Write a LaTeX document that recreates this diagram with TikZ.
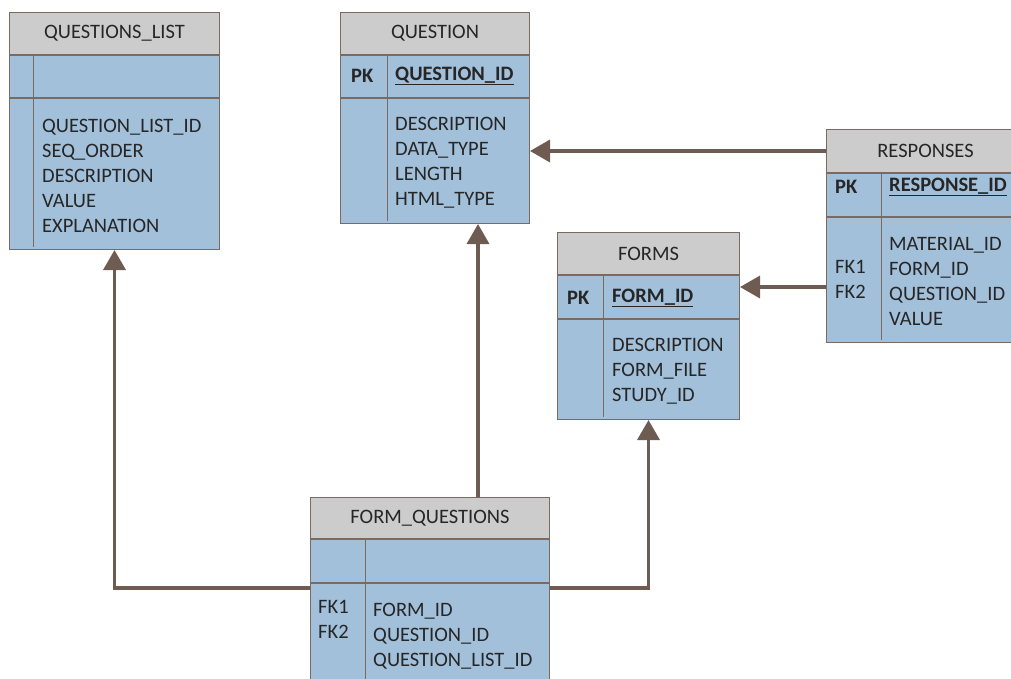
\documentclass[tikz,border=0pt]{standalone}
\usepackage{fontspec}
\setmainfont{Carlito}
\usetikzlibrary{arrows.meta,calc}
\definecolor{hdrfill}{HTML}{CCCCCC}
\definecolor{bodyfill}{HTML}{A2C0DA}
\definecolor{boxline}{HTML}{7A6A62}
\definecolor{connline}{HTML}{6E5B51}
\begin{document}
\begin{tikzpicture}[x=1pt,y=-1pt,
  every node/.style={font=\fontsize{20.5}{25}\selectfont, text=black!85},
  hdrbox/.style={draw=boxline, fill=hdrfill, line width=1pt, anchor=north west, inner sep=0pt},
  bodybox/.style={draw=boxline, fill=bodyfill, line width=1pt, anchor=north west, inner sep=0pt},
  divline/.style={draw=boxline, line width=1pt},
  coltext/.style={anchor=west, align=left, inner sep=0pt},
  keytext/.style={anchor=west, inner sep=0pt, font=\fontsize{20.5}{25}\selectfont\bfseries},
  connector/.style={draw=connline, line width=3.5pt, -{Triangle[length=20pt,width=22pt]}}
]
\useasboundingbox (0,0) rectangle (1011,678);
\clip (0,0) rectangle (1011,678);

% ---------- QUESTIONS_LIST ----------
\node[hdrbox, minimum width=210pt, minimum height=42pt] (qlh) at (9,12) {QUESTIONS\_LIST};
\node[bodybox, minimum width=210pt, minimum height=42pt] (qlk) at (qlh.south west) {};
\node[bodybox, minimum width=210pt, minimum height=151pt] (qlb) at (qlk.south west) {};
\draw[divline] (33,54) -- (33,247);
\node[coltext] (qlc) at (42,176) {QUESTION\_LIST\_ID\\SEQ\_ORDER\\DESCRIPTION\\VALUE\\EXPLANATION};

% ---------- QUESTION ----------
\node[hdrbox, minimum width=189pt, minimum height=42pt] (qh) at (340,12) {QUESTION};
\node[bodybox, minimum width=189pt, minimum height=42pt] (qk) at (qh.south west) {};
\node[bodybox, minimum width=189pt, minimum height=125pt] (qb) at (qk.south west) {};
\draw[divline] (387,54) -- (387,221);
\node[keytext] (qpk) at (351,76) {PK};
\node[keytext] (qid) at (395,76) {\underline{QUESTION\_ID}};
\node[coltext] (qc) at (395,163) {DESCRIPTION\\DATA\_TYPE\\LENGTH\\HTML\_TYPE};

% ---------- RESPONSES ----------
\node[hdrbox, minimum width=198pt, minimum height=43pt] (rh) at (826,129) {RESPONSES};
\node[bodybox, minimum width=198pt, minimum height=43pt] (rk) at (rh.south west) {};
\node[bodybox, minimum width=198pt, minimum height=125pt] (rb) at (rk.south west) {};
\draw[divline] (881,172) -- (881,340);
\node[keytext] (rpk) at (835,187) {PK};
\node[keytext] (rid) at (889,187) {\underline{RESPONSE\_ID}};
\node[coltext] (rfk) at (835,281) {\strut\\FK1\\FK2\\\strut};
\node[coltext] (rc) at (889,281) {MATERIAL\_ID\\FORM\_ID\\QUESTION\_ID\\VALUE};

% ---------- FORMS ----------
\node[hdrbox, minimum width=182pt, minimum height=42pt] (fh) at (557,232) {FORMS};
\node[bodybox, minimum width=182pt, minimum height=43pt] (fk) at (fh.south west) {};
\node[bodybox, minimum width=182pt, minimum height=100pt] (fb) at (fk.south west) {};
\draw[divline] (603,274) -- (603,417);
\node[keytext] (fpk) at (567,298) {PK};
\node[keytext] (fid) at (612,298) {\underline{FORM\_ID}};
\node[coltext] (fc) at (612,371) {DESCRIPTION\\FORM\_FILE\\STUDY\_ID};

% ---------- FORM_QUESTIONS ----------
\node[hdrbox, minimum width=239pt, minimum height=41pt] (fqh) at (310,497) {FORM\_QUESTIONS};
\node[bodybox, minimum width=239pt, minimum height=43pt] (fqk) at (fqh.south west) {};
\node[bodybox, minimum width=239pt, minimum height=110pt] (fqb) at (fqk.south west) {};
\draw[divline] (365,538) -- (365,691);
\node[coltext] (fqfk) at (318,636) {FK1\\FK2\\\strut};
\node[coltext] (fqc) at (373,636) {FORM\_ID\\QUESTION\_ID\\QUESTION\_LIST\_ID};

% ---------- connectors ----------
\coordinate (rflink) at (0,287);
\coordinate (fqlink) at (0,588);
\coordinate (fqtop) at (478,0);
\draw[connector] (rh.west) -- (rh.west -| qb.east);
\draw[connector] (rb.west |- rflink) -- (fk.east |- rflink);
\draw[connector] (fqb.west |- fqlink) -| (qlb.south);
\draw[connector] (fqh.north -| fqtop) -- (qb.south -| fqtop);
\draw[connector] (fqb.east |- fqlink) -| (fb.south);
\end{tikzpicture}
\end{document}
